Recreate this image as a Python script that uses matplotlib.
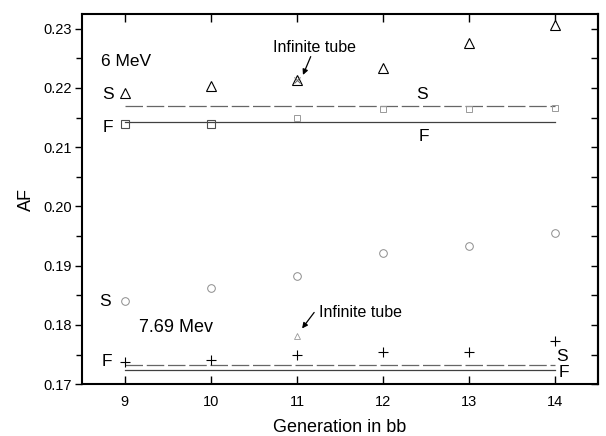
import matplotlib
matplotlib.use("Agg")
import matplotlib.pyplot as plt
from matplotlib.ticker import MultipleLocator, NullFormatter

plt.rcParams['font.family'] = ['Liberation Sans', 'DejaVu Sans']

gen = [9, 10, 11, 12, 13, 14]
s_6mev = [0.2192, 0.2204, 0.2214, 0.2234, 0.2276, 0.2307]
f_6mev = [0.2140, 0.2140, 0.2150, 0.2165, 0.2165, 0.2166]
s_769 = [0.1840, 0.1862, 0.1882, 0.1922, 0.1933, 0.1955]
f_769 = [0.1738, 0.1740, 0.1750, 0.1755, 0.1755, 0.1772]
line_gen = [9, 14]
s_6mev_tube = [0.2170, 0.2170]
f_6mev_tube = [0.2142, 0.2142]
s_769_tube = [0.1733, 0.1733]
f_769_tube = [0.1723, 0.1723]
inf_gen = [11]
inf_6mev = [0.2214]
inf_769 = [0.1782]

fig = plt.figure(figsize=(6.06, 4.36), dpi=100)
ax = fig.add_axes([0.135, 0.119, 0.852, 0.849])

# tube lines
ax.plot(line_gen, s_6mev_tube, color='0.4', lw=0.9, ls=(0, (14, 3)))
ax.plot(line_gen, f_6mev_tube, color='0.25', lw=0.9)
ax.plot(line_gen, s_769_tube, color='0.4', lw=0.9, ls=(0, (14, 3)))
ax.plot(line_gen, f_769_tube, color='0.25', lw=0.9)

# markers
ax.plot(gen, s_6mev, ls='none', marker='^', ms=6.5, mfc='white', mec='black', mew=0.8)
ax.plot(gen[:2], f_6mev[:2], ls='none', marker='s', ms=6, mfc='none', mec='0.3', mew=0.8)
ax.plot(gen[2:], f_6mev[2:], ls='none', marker='s', ms=4, mfc='none', mec='0.6', mew=0.7)
ax.plot(gen, s_769, ls='none', marker='o', ms=5.5, mfc='none', mec='0.55', mew=0.7)
ax.plot(gen, f_769, ls='none', marker='+', ms=6.5, mec='black', mew=0.8)
ax.plot(inf_gen, inf_6mev, ls='none', marker='x', ms=4, mec='0.4', mew=0.7)
ax.plot(inf_gen, inf_769, ls='none', marker='^', ms=4, mfc='none', mec='0.6', mew=0.6)

ax.set_xlim(8.5, 14.5)
ax.set_ylim(0.17, 0.2325)
ax.set_xticks(gen)
ax.yaxis.set_major_locator(MultipleLocator(0.01))
ax.yaxis.set_minor_locator(MultipleLocator(0.005))
ax.set_yticklabels([f"{v:.2f}" for v in ax.get_yticks()])
ax.set_ylim(0.17, 0.2325)

ax.tick_params(axis='x', which='both', direction='in', top=True, length=6, width=1, labelsize=10.5, pad=8)
ax.tick_params(axis='y', which='major', direction='out', length=5, width=1, labelsize=10.5, pad=2)
ax.tick_params(axis='y', which='minor', direction='out', length=4, width=1)

# right-side inward ticks
sec = ax.secondary_yaxis('right')
sec.yaxis.set_major_locator(MultipleLocator(0.005))
sec.yaxis.set_major_formatter(NullFormatter())
sec.tick_params(axis='y', which='major', direction='in', length=5, width=1)
sec.spines['right'].set_linewidth(1.5)

for sp in ax.spines.values():
    sp.set_linewidth(1.5)

ax.set_xlabel('Generation in bb', fontsize=13, labelpad=7)
ax.set_ylabel('AF', fontsize=13, labelpad=6)

fs = 12.5
ax.text(8.72, 0.2244, '6 MeV', fontsize=fs, ha='left', va='center')
ax.text(8.81, 0.2189, 'S', fontsize=fs, ha='center', va='center')
ax.text(8.80, 0.2133, 'F', fontsize=fs, ha='center', va='center')
ax.text(12.45, 0.2189, 'S', fontsize=fs, ha='center', va='center')
ax.text(12.47, 0.2118, 'F', fontsize=fs, ha='center', va='center')
ax.text(8.77, 0.1840, 'S', fontsize=fs, ha='center', va='center')
ax.text(9.17, 0.1796, '7.69 Mev', fontsize=13, ha='left', va='center')
ax.text(8.79, 0.1739, 'F', fontsize=fs, ha='center', va='center')
ax.text(14.08, 0.1747, 'S', fontsize=fs, ha='center', va='center')
ax.text(14.10, 0.1720, 'F', fontsize=fs, ha='center', va='center')

ax.text(11.20, 0.2268, 'Infinite tube', fontsize=11.5, ha='center', va='center')
ax.annotate('', xy=(11.07, 0.2222), xytext=(11.16, 0.2253),
            arrowprops=dict(arrowstyle='-|>', color='black', lw=0.9,
                            shrinkA=0, shrinkB=0, mutation_scale=8))
ax.text(11.26, 0.1821, 'Infinite tube', fontsize=11.5, ha='left', va='center')
ax.annotate('', xy=(11.06, 0.1794), xytext=(11.20, 0.1821),
            arrowprops=dict(arrowstyle='-|>', color='black', lw=0.9,
                            shrinkA=0, shrinkB=0, mutation_scale=8))

fig.savefig('out.png', dpi=100)
